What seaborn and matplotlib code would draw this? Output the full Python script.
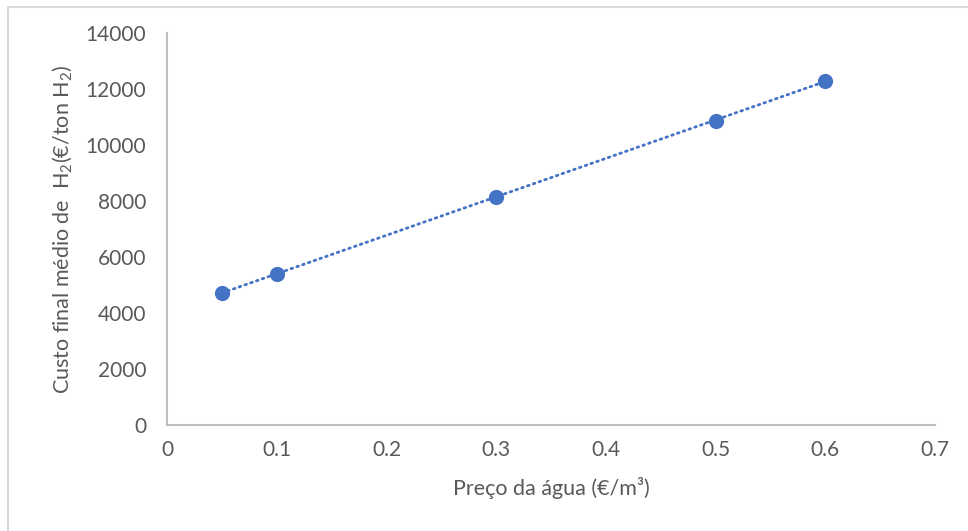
import numpy as np
import matplotlib
matplotlib.use("Agg")
import matplotlib.pyplot as plt
import seaborn as sns
import pandas as pd
from matplotlib.lines import Line2D

# Water price (€/m³) and resulting average final H2 cost (€/ton H2)
water_price = [0.05, 0.10, 0.30, 0.50, 0.60]
h2_cost = [4720, 5400, 8150, 10870, 12290]

x_ticks = [0, 0.1, 0.2, 0.3, 0.4, 0.5, 0.6, 0.7]
x_tick_labels = ["0", "0.1", "0.2", "0.3", "0.4", "0.5", "0.6", "0.7"]
y_ticks = [0, 2000, 4000, 6000, 8000, 10000, 12000, 14000]

sns.set_theme(style="white")
plt.rcParams["font.family"] = ["Lato", "DejaVu Sans"]
plt.rcParams["mathtext.fontset"] = "custom"
plt.rcParams["mathtext.rm"] = "Lato"
plt.rcParams["mathtext.it"] = "Lato"

text_grey = "#595959"
axis_grey = "#BFBFBF"
blue = "#4472C4"

df = pd.DataFrame({"preco": water_price, "custo": h2_cost})

fig = plt.figure(figsize=(9.68, 5.31), dpi=100)
ax = fig.add_axes([0.1725, 0.1996, 0.966 - 0.1725, 0.9379 - 0.1996])

# Linear trendline through the data (dotted)
slope, intercept = np.polyfit(df["preco"], df["custo"], 1)
xs = np.array([df["preco"].min(), df["preco"].max()])
ax.plot(xs, slope * xs + intercept, linestyle=(0, (0.6, 1.6)), color=blue,
        linewidth=2.0, dash_capstyle="round", zorder=2)

sns.scatterplot(data=df, x="preco", y="custo", ax=ax, color=blue, s=120,
                edgecolor=blue, linewidth=0, zorder=3)

ax.set_xlim(0, 0.7)
ax.set_ylim(0, 14000)
ax.set_xticks(x_ticks)
ax.set_xticklabels(x_tick_labels)
ax.set_yticks(y_ticks)
ax.tick_params(axis="both", length=0, labelsize=15, colors=text_grey)
ax.tick_params(axis="x", pad=11)
ax.tick_params(axis="y", pad=15)

for side in ["top", "right"]:
    ax.spines[side].set_visible(False)
for side in ["left", "bottom"]:
    ax.spines[side].set_color(axis_grey)
    ax.spines[side].set_linewidth(1.5)

ax.set_xlabel("Preço da água (€/m³)", fontsize=15.5, color=text_grey, labelpad=12)
ax.set_ylabel(r"Custo final médio de  H$_2$(€/ton H$_2$)", fontsize=15.5,
              color=text_grey, labelpad=8)

# Chart area frame (top and left edges)
fig.add_artist(Line2D([8 / 968, 1.0], [1 - 7 / 531, 1 - 7 / 531],
                      transform=fig.transFigure, color="#D9D9D9", linewidth=1.5))
fig.add_artist(Line2D([8 / 968, 8 / 968], [0.0, 1 - 7 / 531],
                      transform=fig.transFigure, color="#D9D9D9", linewidth=1.5))

fig.savefig("out.png", dpi=100, facecolor="white")
